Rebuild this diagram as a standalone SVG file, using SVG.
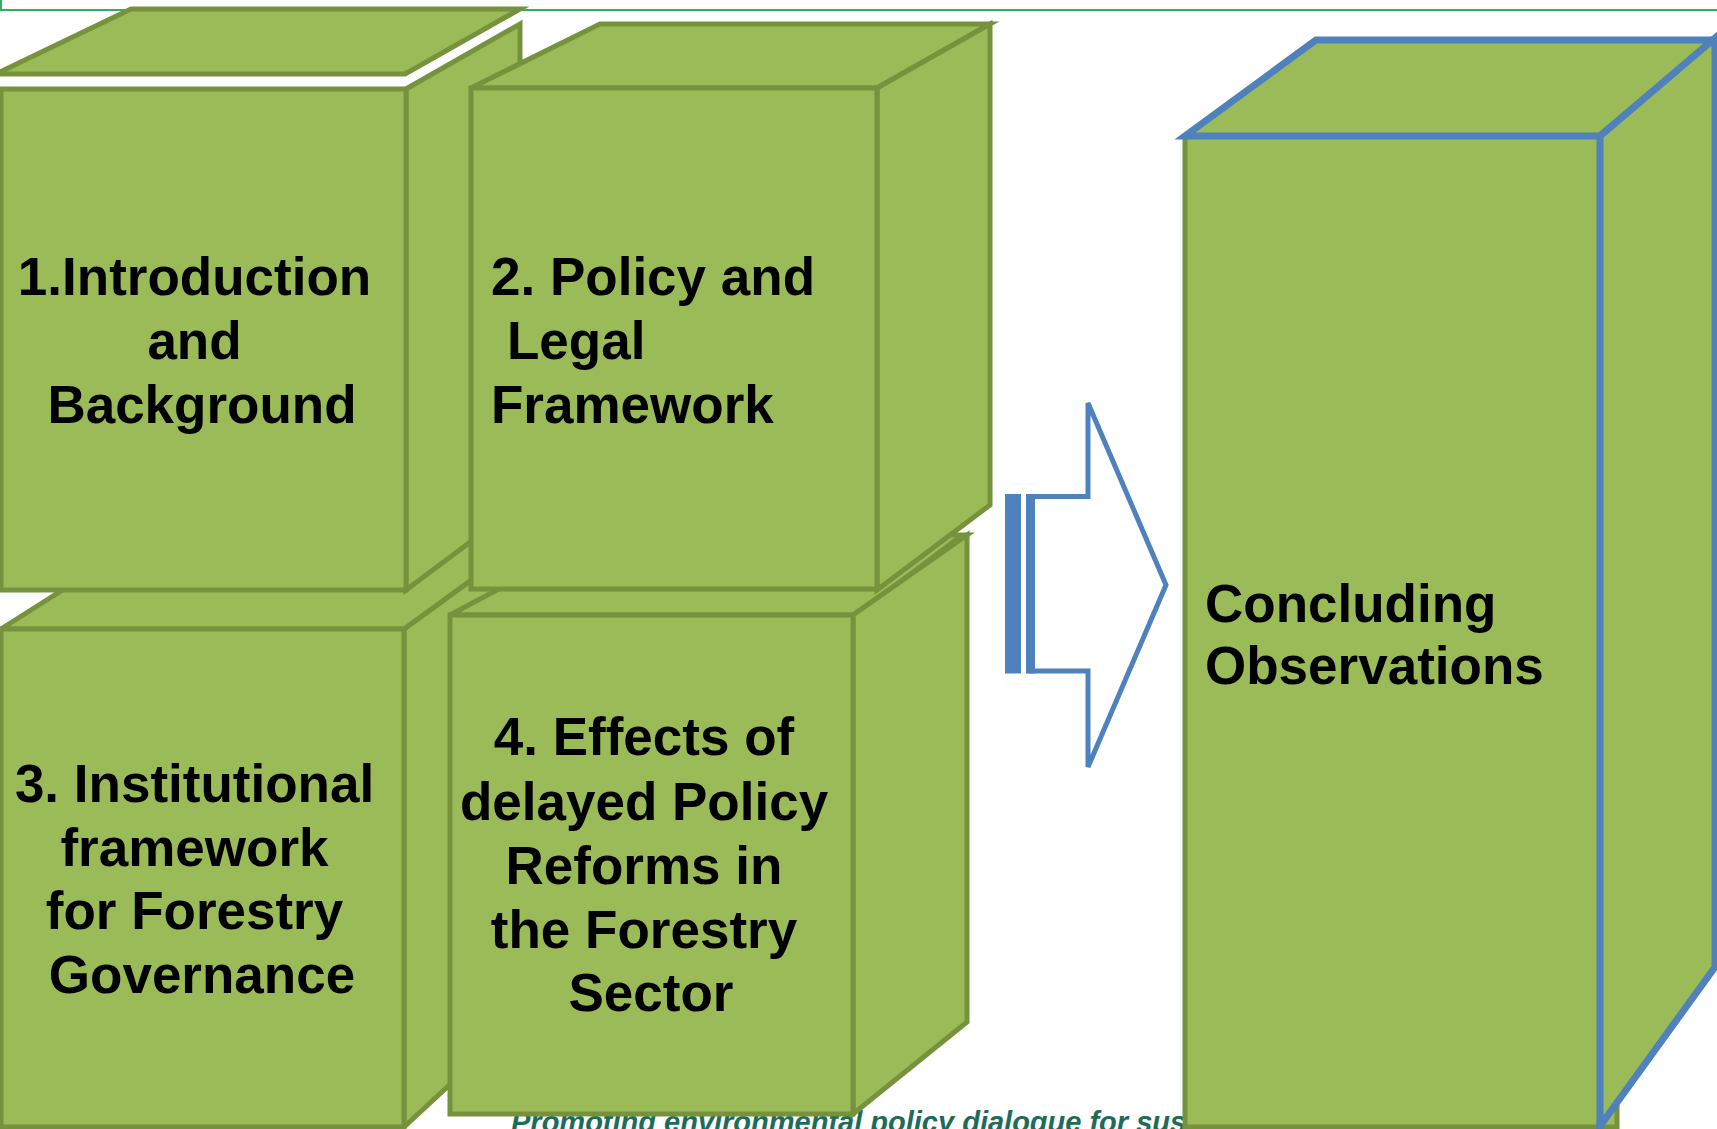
<svg xmlns="http://www.w3.org/2000/svg" width="1717" height="1129" viewBox="0 0 1717 1129">
  <style>
    .face { fill: #9bbb59; stroke: #76923c; stroke-width: 5; stroke-linejoin: miter; }
    .faceBlue { fill: #9bbb59; stroke: #4f81bd; stroke-width: 7; stroke-linejoin: miter; }
    .label { font-family: "Liberation Sans", Arial, sans-serif; font-weight: bold; font-size: 53px; fill: #000000; }
    .mid { text-anchor: middle; }
    .footer { font-family: "Liberation Sans", Arial, sans-serif; font-weight: bold; font-style: italic; font-size: 29px; fill: #1d6b5b; }
    .arrow { fill: #ffffff; stroke: #4f81bd; stroke-width: 5; stroke-linejoin: miter; }
    .stripe { fill: #4f81bd; }
  </style>

  <rect x="0" y="0" width="1717" height="1129" fill="#ffffff"/>

  <!-- header rule -->
  <line x1="0" y1="10" x2="1717" y2="10" stroke="#2bb05c" stroke-width="2"/>
  <line x1="1" y1="0" x2="1" y2="10" stroke="#2bb05c" stroke-width="2"/>

  <!-- footer caption, partly hidden behind the boxes -->
  <text class="footer" x="511" y="1132">Promoting environmental policy dialogue for sus</text>

  <!-- 3. Institutional framework -->
  <g id="box-institutional">
    <polygon class="face" points="525,541 525,1015 404,1127 404,629"/>
    <polygon class="face" points="1,629 404,629 525,541 140,541"/>
    <rect class="face" x="1" y="629" width="403" height="498"/>
    <text class="label mid" x="194.5" y="802">3. Institutional</text>
    <text class="label mid" x="194.5" y="866">framework</text>
    <text class="label mid" x="194.5" y="929">for Forestry</text>
    <text class="label mid" x="202" y="993">Governance</text>
  </g>

  <!-- 1. Introduction and Background -->
  <g id="box-introduction">
    <polygon class="face" points="-4,74 131,9 520,9 405,74"/>
    <polygon class="face" points="406,89 520,24 520,505 406,590"/>
    <rect class="face" x="1" y="89" width="405" height="501"/>
    <text class="label mid" x="194.5" y="295">1.Introduction</text>
    <text class="label mid" x="194.5" y="359">and</text>
    <text class="label mid" x="202" y="423">Background</text>
  </g>

  <!-- 4. Effects of delayed Policy Reforms -->
  <g id="box-effects">
    <polygon class="face" points="450,615 853,615 967,535 600,535"/>
    <polygon class="face" points="853,615 967,535 967,1022 853,1114"/>
    <line x1="960" y1="536" x2="894" y2="586" stroke="#76923c" stroke-width="4"/>
    <rect class="face" x="450" y="615" width="403" height="499"/>
    <text class="label mid" x="644" y="755">4. Effects of</text>
    <text class="label mid" x="644" y="820">delayed Policy</text>
    <text class="label mid" x="644" y="884">Reforms in</text>
    <text class="label mid" x="644" y="948">the Forestry</text>
    <text class="label mid" x="651" y="1011">Sector</text>
  </g>

  <!-- 2. Policy and Legal Framework -->
  <g id="box-policy">
    <polygon class="face" points="471,88 877,88 990,24 600,24"/>
    <polygon class="face" points="877,88 990,24 990,505 877,590"/>
    <rect class="face" x="471" y="88" width="406" height="501"/>
    <text class="label" x="491" y="295">2. Policy and</text>
    <text class="label" x="507" y="359">Legal</text>
    <text class="label" x="491" y="423">Framework</text>
  </g>

  <!-- block arrow towards the conclusion -->
  <g id="connectors">
    <polygon class="arrow" points="1031,496.5 1088,496.5 1088,403 1166,585 1088,767 1088,671 1031,671"/>
    <rect class="stripe" x="1005" y="494" width="16" height="179.5"/>
    <rect class="stripe" x="1026" y="494" width="9" height="179.5"/>
  </g>

  <!-- Concluding Observations -->
  <g id="box-conclusion">
    <rect class="face" x="1185" y="136" width="432" height="991"/>
    <polygon class="faceBlue" points="1185,136 1600,136 1715,40 1316,40"/>
    <polygon class="faceBlue" points="1600,136 1715,38 1715,967 1600,1126"/>
    <line x1="1600" y1="1120" x2="1600" y2="1129" stroke="#4f81bd" stroke-width="7"/>
    <text class="label" x="1205" y="622">Concluding</text>
    <text class="label" x="1205" y="684">Observations</text>
  </g>
</svg>
